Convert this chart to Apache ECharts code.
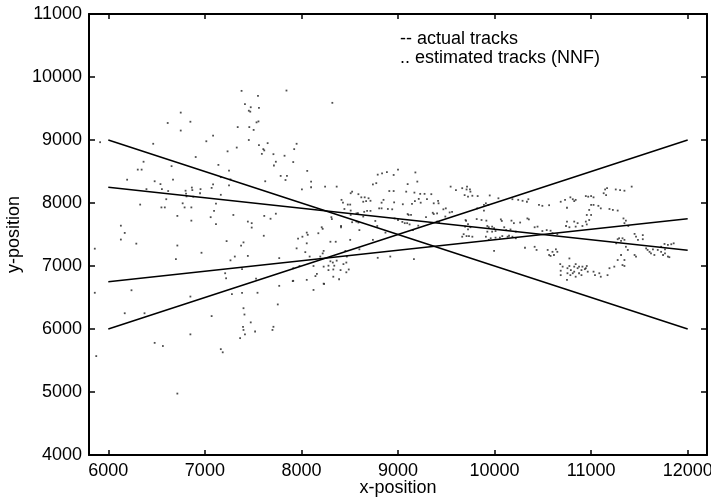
<!DOCTYPE html>
<html>
<head>
<meta charset="utf-8">
<script src="https://cdn.jsdelivr.net/npm/echarts@6/dist/echarts.min.js"></script>
<style>
html, body { margin: 0; padding: 0; background: #fff; }
#main { width: 711px; height: 502px; }
</style>
</head>
<body>
<div id="main"></div>
<script>
// tick values
var xTicks = [6000, 7000, 8000, 9000, 10000, 11000, 12000];
var yTicks = [4000, 5000, 6000, 7000, 8000, 9000, 10000, 11000];

// actual tracks (start, end)
var trackA = [[6000, 9000], [12000, 6000]];
var trackB = [[6000, 6000], [12000, 9000]];
var trackC = [[6000, 8250], [12000, 7250]];
var trackD = [[6000, 6750], [12000, 7750]];

// estimated track points (NNF)
var estimated = [
	[7380,9780],[7550,9700],[7415,9570],[7475,9520],[7560,9510],[7455,9465],[7470,9450],[6750,9435],[6615,9270],[6850,9290],
	[7340,9205],[7460,9205],[7535,9280],[7555,9295],[7505,9160],[6750,9150],[7085,9070],[7015,8980],[7455,9000],[6465,8940],
	[5915,8965],[7560,8920],[7650,8950],[7605,8855],[7615,8835],[7710,8775],[7590,8780],[7235,8820],[7330,8880],[7825,8750],
	[6905,8730],[7735,8655],[6365,8655],[7140,8605],[6655,8585],[7715,8595],[6305,8530],[6345,8530],[7250,8515],[7785,8430],
	[6195,8370],[6670,8370],[6480,8345],[7265,8375],[7625,8345],[7165,8410],[6540,8300],[7085,8295],[7250,8280],[6395,8220],
	[6555,8220],[6620,8190],[6865,8245],[6870,8205],[6955,8220],[7070,8240],[6800,8195],[6805,8150],[6810,8105],[6950,8155],
	[7165,8130],[6600,8060],[6880,8100],[6330,7975],[6770,7995],[6790,7930],[6550,7930],[6585,7930],[6860,7930],[7115,7990],
	[7095,7875],[6715,7795],[7060,7775],[7295,7810],[7615,7795],[7680,7750],[7735,7830],[6860,7720],[7445,7705],[7485,7680],
	[7115,7665],[6130,7640],[7485,7610],[6170,7525],[7610,7480],[6130,7420],[6290,7355],[6715,7325],[7225,7395],[7400,7375],
	[7375,7325],[5860,7275],
	[6965,7210],[6700,7110],[7265,7090],[7310,7150],[7445,7160],[7770,7125],[7210,6885],[7220,6805],[7385,6950],[7530,6800],
	[7770,6685],[5860,6575],[6240,6615],[6850,6515],[7280,6555],[7385,6575],[7545,6575],[7755,6390],[7400,6330],[7410,6230],
	[6170,6250],[6375,6250],[7070,6205],[7475,6105],[7395,6035],[7400,5985],[7520,5960],[7710,6035],[7700,5985],[7415,5915],
	[7365,5855],[6850,5915],[6480,5780],[6565,5730],[7165,5680],[7185,5630],[5875,5570],[6715,4975],
	[7845,9785],[8320,9590],[7950,8940],[7925,8855],
	[7915,8650],[8060,8510],[7850,8430],[7835,8365],[8100,8340],[8100,8250],[8005,8215],[8245,8260],[8365,8260],[8790,8450],
	[8835,8470],[8885,8490],[9000,8530],[8955,8445],[9180,8485],[8740,8295],[8775,8315],[9100,8300],[9200,8340],[8525,8180],
	[8510,8155],[8910,8190],[8955,8190],[9085,8180],[9170,8165],[8590,8140],[8620,8090],[8655,8090],[8695,8075],[8715,8035],
	[8670,8030],[8640,8020],[8850,8050],[8830,8005],[8960,8010],[8415,8050],[8430,8005],[8480,7975],[8505,7975],[9050,7980],
	[9145,7985],[9230,8145],[9275,8145],[9215,8065],[9235,8005],[9175,8030],[9300,8060],[9345,8140],[8805,7915],[8830,7915],
	[8895,7905],[8940,7900],[9100,7825],[9110,7810],[9135,7810],[8680,7875],[8715,7875],[8570,7835],[8585,7840],[8510,7880],
	[8445,7905],[8650,7860],[8510,7810],[8640,7785],[8310,7775],[8315,7745],[8410,7635],[8525,7695],[8570,7705],[8590,7690],
	[8765,7715],[8785,7635],[8965,7755],[9000,7730],[9045,7700],[9070,7680],[9095,7680],[9120,7660],[9210,7640],[9290,7775],
	[9360,7845],[9370,7825],[9405,7835],[9415,8035],[9420,7995],[9370,7995],[9470,7900],[9495,7915],[9545,8260],[9600,8205],
	[9665,8235],[9710,8215],[9535,7850],[9560,7860],[9490,7785],[9405,7705],[9425,7695],[9705,7715],[9725,7665],[9665,7465],
	[9710,7475],[9155,7570],[8870,7530],[8600,7570],[8410,7615],[8210,7615],[8220,7590],[8175,7520],[8055,7530],[8065,7495],
	[8010,7465],[7965,7435],[8055,7360],[8300,7385],[8355,7385],[8505,7415],[8740,7415],[8600,7265],[8455,7240],[8230,7240],
	[8220,7200],[8195,7150],[8470,7150],[8790,7130],[8920,7150],[9165,7110],[8300,7075],[8325,7055],[8365,7085],[8280,7005],
	[8340,7005],[8435,7030],[8465,7055],[8280,6935],[8125,7000],[8230,6990],[8330,6945],[8405,6935],[8490,6945],[8465,6900],
	[8160,6875],[8145,6840],[8330,6830],[8390,6790],[8235,6715],[7915,6765],[7980,7000],[7915,6965],[7950,7280],[8040,7220],
	[8085,7150],[7910,6760],[8055,6780],[8230,6720],[8125,6620],
	[9715,8260],[9745,8215],[9750,8180],[9690,8125],[9725,8100],[9770,8115],[9825,8110],[9950,8120],[9910,7995],[9890,7970],
	[9935,7970],[10040,8075],[10185,8060],[10245,8050],[10290,8035],[10335,8020],[10350,8060],[9820,7915],[9890,7880],[10460,7970],
	[10495,7955],[10565,7965],[10340,7755],[10355,7740],[10175,7720],[10200,7680],[10265,7690],[10065,7740],[10075,7715],[9815,7745],
	[9865,7730],[9915,7720],[9700,7730],[9695,7625],[9750,7615],[9725,7580],[9925,7635],[9940,7615],[9975,7625],[9995,7600],
	[9925,7545],[9975,7545],[10010,7555],[10100,7615],[10120,7570],[10165,7580],[10220,7545],[9680,7505],[9770,7465],[9735,7475],
	[9910,7465],[9960,7440],[9940,7415],[10010,7450],[10055,7450],[10080,7475],[10135,7465],[10150,7480],[10185,7465],[10220,7440],
	[9995,7240],[10315,7290],[10415,7615],[10445,7625],[10495,7555],[10540,7570],[10580,7560],[10600,7520],[10650,7505],[10415,7305],
	[10435,7255],[10550,7255],[10565,7175],[10580,7160],[10615,7175],[10600,7225],[10635,7265],[10650,7225],[10775,7120],
	[10680,7030],[10705,6990],[10685,6925],[10755,6965],[10790,6935],[10775,7000],[10825,6990],[10840,7030],[10860,6965],[10875,6990],
	[10900,6935],[10910,6990],[10935,6950],[10955,7000],[10965,6910],[10685,6855],[10750,6780],[10785,6855],[10810,6885],[10840,6830],
	[10875,6885],[10900,6855],[11025,6910],[11040,6855],[11085,6885],[11100,6830],[11170,6855],[11190,6965],[11240,6990],[11325,7015],
	[11345,7000],[11275,7095],[10755,6885],[10825,6910],[10945,6965],
	[10685,8020],[10730,8050],[10785,8090],[10810,8060],[10825,8030],[10840,8050],[10750,7925],[10945,8110],[10970,8100],[11000,8110],
	[11025,8090],[11145,8215],[11165,8235],[11130,8155],[11155,8125],[11255,8215],[11300,8205],[11345,8195],[11420,8260],[11000,7970],
	[11025,7970],[11075,7955],[11100,7915],[11190,7905],[11225,7890],[11275,7880],[10980,7890],[10955,7810],[11000,7810],[10980,7730],
	[10945,7705],[10955,7660],[10910,7635],[10825,7705],[10860,7680],[10840,7625],[10775,7615],[10750,7705],[10740,7635],[11335,7755],
	[11360,7720],[11345,7680],[11385,7635],[11450,7510],[11465,7465],[11485,7415],[11535,7425],[11275,7425],[11290,7440],[11310,7400],
	[11345,7415],[11325,7440],[11260,7360],[11360,7305],[11380,7255],[11310,7175],[11345,7095],[11450,7175],[11465,7150],[11570,7280],
	[11585,7255],[11605,7225],[11620,7200],[11640,7265],[11655,7175],[11690,7255],[11725,7225],[11745,7175],[11765,7200],[11795,7150],
	[11810,7140],[11760,7350],[11795,7335],[11830,7345],[11855,7360],[11725,7305],[11765,7265],[11535,7490]
];

var fontFam = '"Liberation Sans", Arial, Helvetica, sans-serif';
var axisLine = { show: true, lineStyle: { color: '#000', width: 2 } };
var tickStyle = { color: '#000', width: 1.5 };
var plain = function (v) { return String(v); };

var myChart = echarts.init(document.getElementById('main'), null, { renderer: 'canvas' });

var trackStyle = { color: '#000', width: 1.5 };
function trackSeries(data) {
	return {
		type: 'line',
		data: data,
		showSymbol: false,
		symbol: 'none',
		silent: true,
		lineStyle: trackStyle,
		z: 3
	};
}

var option = {
	animation: false,
	backgroundColor: '#fff',
	grid: { left: 89, right: 4, top: 14, bottom: 47, outerBoundsMode: 'none', containLabel: false },
	xAxis: [{
		type: 'value',
		position: 'bottom',
		min: 5800,
		max: 12200,
		axisLine: axisLine,
		axisTick: { show: true, inside: true, length: 5, customValues: xTicks, lineStyle: tickStyle },
		axisLabel: { customValues: xTicks, formatter: plain, color: '#000', fontSize: 18, fontFamily: fontFam, margin: 7, hideOverlap: false },
		splitLine: { show: false },
		name: 'x-position',
		nameLocation: 'middle',
		nameGap: 24,
		nameMoveOverlap: false,
		nameTextStyle: { color: '#000', fontSize: 18, fontFamily: fontFam }
	}, {
		type: 'value',
		position: 'top',
		min: 5800,
		max: 12200,
		axisLine: axisLine,
		axisTick: { show: true, inside: true, length: 5, customValues: xTicks, lineStyle: tickStyle },
		axisLabel: { show: true, customValues: xTicks, formatter: function () { return ''; } },
		splitLine: { show: false }
	}],
	yAxis: [{
		type: 'value',
		position: 'left',
		min: 4000,
		max: 11000,
		interval: 1000,
		axisLine: axisLine,
		axisTick: { show: true, inside: true, length: 6, lineStyle: tickStyle },
		axisLabel: { formatter: plain, color: '#000', fontSize: 18, fontFamily: fontFam, margin: 7 },
		splitLine: { show: false },
		name: 'y-position',
		nameLocation: 'middle',
		nameGap: 66,
		nameMoveOverlap: false,
		nameTextStyle: { color: '#000', fontSize: 18, fontFamily: fontFam }
	}, {
		type: 'value',
		position: 'right',
		min: 4000,
		max: 11000,
		interval: 1000,
		axisLine: axisLine,
		axisTick: { show: true, inside: true, length: 6, lineStyle: tickStyle },
		axisLabel: { show: true, formatter: function () { return ''; } },
		splitLine: { show: false }
	}],
	graphic: [{
		type: 'text',
		left: 400,
		top: 30,
		style: { text: '-- actual tracks', fill: '#000', font: '18px ' + fontFam }
	}, {
		type: 'text',
		left: 400,
		top: 49,
		style: { text: '.. estimated tracks (NNF)', fill: '#000', font: '18px ' + fontFam }
	}],
	series: [
		trackSeries(trackA),
		trackSeries(trackB),
		trackSeries(trackC),
		trackSeries(trackD),
		{
			type: 'scatter',
			data: estimated,
			symbol: 'rect',
			symbolSize: 1.8,
			silent: true,
			itemStyle: { color: '#222' },
			z: 2
		}
	]
};
myChart.setOption(option);
</script>
</body>
</html>
